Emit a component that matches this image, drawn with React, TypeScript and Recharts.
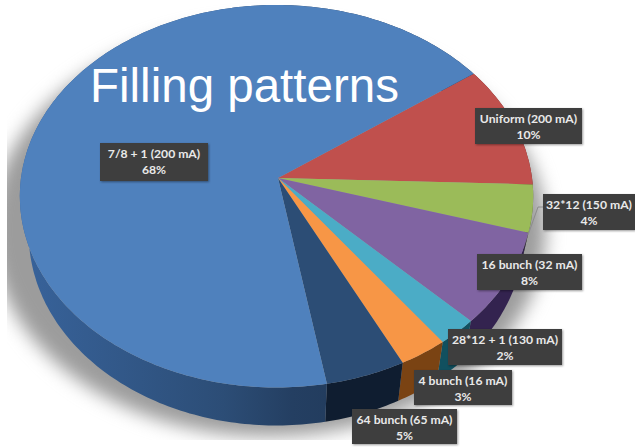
import { Pie, PieChart } from "recharts";

const sliceNames = [
  "Uniform (200 mA)",
  "32*12 (150 mA)",
  "16 bunch (32 mA)",
  "28*12 + 1 (130 mA)",
  "4 bunch (16 mA)",
  "64 bunch (65 mA)",
  "7/8 + 1 (200 mA)",
];
// shares, the printed labels round them
const sliceShares = [10.4, 4, 7.9, 2.3, 2.8, 4.6, 68];
const faceColors = ["#c0504d", "#9bbb59", "#8064a2", "#4bacc6", "#f79646", "#2c4d75", "#4f81bd"];
const wallColors = ["#6b2b29", "#56682f", "#33234f", "#11505f", "#7a4313", "#0f1d30", "url(#blueWall)"];

// top-left corner and size of each dark label box
const labelBoxes = [
  { x: 475, y: 108, w: 107, h: 36 },
  { x: 543, y: 194, w: 92, h: 36 },
  { x: 477, y: 254, w: 105, h: 36 },
  { x: 448, y: 329, w: 114, h: 36 },
  { x: 414, y: 370, w: 98, h: 35 },
  { x: 352, y: 409, w: 105, h: 35 },
  { x: 100, y: 143, w: 108, h: 38 },
];

const tableData = sliceNames.map((name, i) => ({ name, value: sliceShares[i], fill: faceColors[i] }));
const wallData = sliceNames.map((name, i) => ({ name, value: sliceShares[i], fill: wallColors[i] }));

const CX = 278;
const CY = 178;
const RIM_X = 276.5;
const RX = 255.5;
const RY = 189.5;
const TILT = 0.0954;
const DEPTH = 38;
const START = 35.5;

// circle seen in perspective: the near edge comes out larger than the far one
const project = (deg: number, drop = 0, squeeze = 1, grow = 1, shift = 0) => {
  const a = (deg * Math.PI) / 180;
  const u = Math.cos(a);
  const v = -Math.sin(a);
  const w = 1 - TILT * v;
  return [RIM_X + shift + (RX * squeeze * grow * u) / w, CY + (RY * grow * v) / w + drop];
};

const arcPoints = (from: number, to: number, drop = 0, squeeze = 1, grow = 1, shift = 0) => {
  const n = Math.max(2, Math.ceil(Math.abs(to - from)));
  const pts = [];
  for (let i = 0; i <= n; i++) {
    pts.push(project(from + ((to - from) * i) / n, drop, squeeze, grow, shift));
  }
  return pts;
};

const toPath = (pts: number[][]) =>
  pts.map((p, i) => `${i ? "L" : "M"}${p[0].toFixed(1)} ${p[1].toFixed(1)}`).join(" ") + " Z";

const FaceShape = (props: any) => (
  <path
    d={toPath([[CX, CY], ...arcPoints(props.startAngle, props.endAngle)])}
    fill={props.fill}
  />
);

const WallShape = (props: any) => {
  const top = arcPoints(props.startAngle, props.endAngle);
  const bottom = arcPoints(props.endAngle, props.startAngle, DEPTH, 0.965);
  return <path d={toPath([...top, ...bottom])} fill={props.fill} />;
};

const renderLabel = (props: any) => {
  const i = props.index;
  const box = labelBoxes[i];
  const mid = box.x + box.w / 2;
  return (
    <g key={sliceNames[i]}>
      {i === 1 && (
        <polyline points="528,235 538,207 543,207" fill="none" stroke="#8c8c8c" strokeWidth={1} />
      )}
      <rect x={box.x} y={box.y} width={box.w} height={box.h} fill="#3e3e3e" style={{ filter: "drop-shadow(1px 1px 1px rgba(0,0,0,0.4))" }} />
      <text x={mid} y={box.y + 15} textAnchor="middle" fontFamily="Lato" fontWeight={700} fontSize={12.2} fill="#e9e9e9">
        {sliceNames[i]}
      </text>
      <text x={mid} y={box.y + 31} textAnchor="middle" fontFamily="Lato" fontWeight={700} fontSize={12.2} fill="#e9e9e9">
        {Math.round(sliceShares[i])}%
      </text>
    </g>
  );
};

export default function App() {
  return (
    <div style={{ position: "fixed", left: 0, top: 0, width: 635, height: 447, background: "#fff", overflow: "hidden" }}>
      <div style={{ position: "absolute", left: 7, top: 0, width: 628, height: 440, overflow: "hidden" }}>
        <svg width={628} height={440} style={{ display: "block" }}>
          <path
            transform="translate(-7 0)"
            d={toPath(arcPoints(0, 360, DEPTH - 6, 1, 1.08, -8))}
            fill="#9c9c9c"
            style={{ filter: "blur(9px)" }}
          />
        </svg>
      </div>
      <PieChart width={635} height={447} margin={{ top: 0, right: 0, bottom: 0, left: 0 }}>
        <defs>
          <linearGradient id="blueWall" x1="0" y1="0" x2="1" y2="0">
            <stop offset="0" stopColor="#38639b" />
            <stop offset="0.45" stopColor="#2c4d76" />
            <stop offset="0.6" stopColor="#243f62" />
            <stop offset="1" stopColor="#1c3350" />
          </linearGradient>
        </defs>
        <Pie
          data={wallData}
          dataKey="value"
          cx={CX}
          cy={CY}
          outerRadius={100}
          startAngle={START}
          endAngle={START - 360}
          stroke="none"
          shape={WallShape}
          isAnimationActive={false}
        />
        <Pie
          data={tableData}
          dataKey="value"
          cx={CX}
          cy={CY}
          outerRadius={100}
          startAngle={START}
          endAngle={START - 360}
          stroke="none"
          shape={FaceShape}
          label={renderLabel}
          labelLine={false}
          isAnimationActive={false}
        />
      </PieChart>
      <div style={{ position: "absolute", left: 90, top: 62, fontFamily: "Liberation Sans", fontSize: 47.5, lineHeight: "48px", color: "#fff", whiteSpace: "nowrap" }}>
        Filling patterns
      </div>
    </div>
  );
}
